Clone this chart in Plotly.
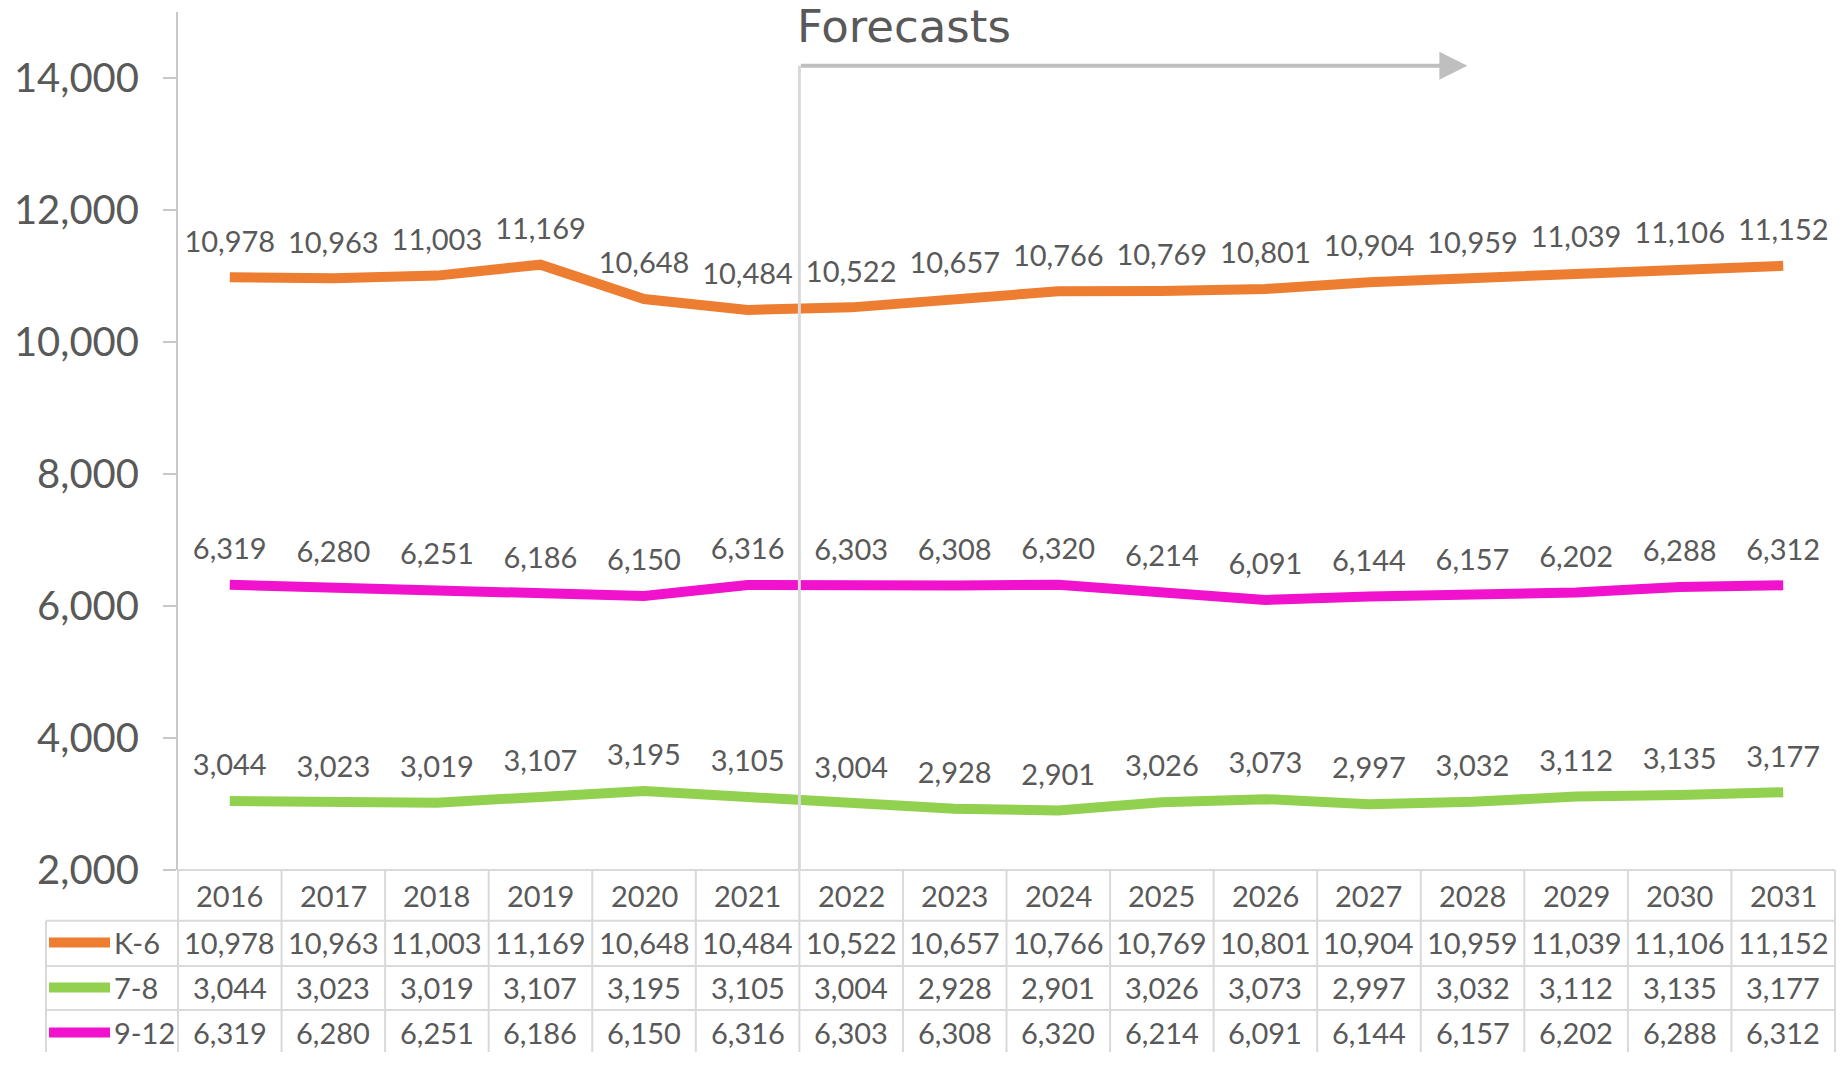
import plotly.graph_objects as go

# ---------------- data ----------------
years = list(range(2016, 2032))
series_names = ["K-6", "7-8", "9-12"]
k6 = [10978, 10963, 11003, 11169, 10648, 10484, 10522, 10657, 10766, 10769, 10801, 10904, 10959, 11039, 11106, 11152]
g78 = [3044, 3023, 3019, 3107, 3195, 3105, 3004, 2928, 2901, 3026, 3073, 2997, 3032, 3112, 3135, 3177]
g912 = [6319, 6280, 6251, 6186, 6150, 6316, 6303, 6308, 6320, 6214, 6091, 6144, 6157, 6202, 6288, 6312]
y_ticks = [2000, 4000, 6000, 8000, 10000, 12000, 14000]
forecast_label = "Forecasts"
forecast_start = 2021.5
forecast_end = 2027.95
forecast_level = 14180

# ---------------- styles / layout (pixels in figure space) ----------------
W, H = 1847, 1075
colors = ["#ED7D31", "#92D050", "#F012CC"]
text_color = "#595959"
grid_color = "#D9D9D9"
axis_color = "#C8C8C8"
font_family = "Lato, 'Open Sans', sans-serif"
title_family = "'DejaVu Sans', sans-serif"

x0_plot, x1_plot = 178, 1835          # plot area left / right
y_plot_top, y_plot_bottom = 12, 889   # plot area top / bottom
x_tab_left = 46                       # legend column left edge
row_edges = [889, 941, 987, 1032]     # header top, K-6 top, 7-8 top, 9-12 top
row_centers = [915, 963, 1009, 1055]  # header, K-6, 7-8, 9-12
key_x = (49, 110)
label_x = 112

series_values = [k6, g78, g912]


def px_x(px):
    return px / W


def px_y(py):
    return 1 - py / H


fig = go.Figure()

for name, vals, col in zip(series_names, series_values, colors):
    fig.add_trace(go.Scatter(
        x=years, y=vals, name=name,
        mode="lines+markers+text",
        line=dict(color=col, width=10),
        marker=dict(size=28, opacity=0),
        text=[f"{v:,}" for v in vals],
        textposition="top center",
        textfont=dict(family=font_family, size=29, color=text_color),
        showlegend=False,
        hoverinfo="skip",
    ))

shapes = []
annotations = []
line_style = dict(color=grid_color, width=2)
col_w = (x1_plot - x0_plot) / len(years)

# table grid: vertical column borders
for i in range(len(years) + 1):
    xp = px_x(x0_plot + i * col_w)
    shapes.append(dict(type="line", xref="paper", yref="paper",
                       x0=xp, x1=xp, y0=px_y(row_edges[0]), y1=0, line=line_style))
# legend column left border
shapes.append(dict(type="line", xref="paper", yref="paper",
                   x0=px_x(x_tab_left), x1=px_x(x_tab_left),
                   y0=px_y(row_edges[1]), y1=0, line=line_style))
# horizontal borders
shapes.append(dict(type="line", xref="paper", yref="paper",
                   x0=px_x(x0_plot), x1=px_x(x1_plot),
                   y0=px_y(row_edges[0]), y1=px_y(row_edges[0]), line=line_style))
for ry in row_edges[1:]:
    shapes.append(dict(type="line", xref="paper", yref="paper",
                       x0=px_x(x_tab_left), x1=px_x(x1_plot),
                       y0=px_y(ry), y1=px_y(ry), line=line_style))

cell_font = dict(family=font_family, size=29, color=text_color)

# header years
for yr in years:
    annotations.append(dict(xref="x", yref="paper", x=yr, y=px_y(row_centers[0]),
                            text=str(yr), showarrow=False, yanchor="middle",
                            font=cell_font))

# rows: legend key + label + values
for r, (name, vals, col) in enumerate(zip(series_names, series_values, colors)):
    cy = px_y(row_centers[r + 1])
    shapes.append(dict(type="line", xref="paper", yref="paper",
                       x0=px_x(key_x[0]), x1=px_x(key_x[1]), y0=cy, y1=cy,
                       line=dict(color=col, width=10)))
    annotations.append(dict(xref="paper", yref="paper", x=px_x(label_x), y=cy,
                            text=name, showarrow=False, xanchor="left", yanchor="middle",
                            font=cell_font))
    for yr, v in zip(years, vals):
        annotations.append(dict(xref="x", yref="paper", x=yr, y=cy,
                                text=f"{v:,}", showarrow=False, yanchor="middle",
                                font=cell_font))

# forecast marker: vertical line + arrow + label
shapes.append(dict(type="line", xref="x", yref="y",
                   x0=forecast_start, x1=forecast_start, y0=y_ticks[0], y1=forecast_level,
                   line=dict(color=grid_color, width=3)))
annotations.append(dict(xref="x", yref="y", axref="x", ayref="y",
                        x=forecast_end, y=forecast_level, ax=forecast_start, ay=forecast_level,
                        text="", showarrow=True, arrowhead=2, arrowsize=1.4, arrowwidth=4,
                        arrowcolor="#BFBFBF"))
annotations.append(dict(xref="x", yref="y", x=forecast_start, y=14770,
                        xanchor="left", yanchor="middle", xshift=-4,
                        text=forecast_label, showarrow=False,
                        font=dict(family=title_family, size=45, color=text_color)))

fig.update_layout(
    width=W, height=H,
    margin=dict(l=0, r=0, t=0, b=0),
    paper_bgcolor="white", plot_bgcolor="white",
    shapes=shapes,
    annotations=annotations,
    xaxis=dict(
        domain=[px_x(x0_plot), px_x(x1_plot)],
        range=[years[0] - 0.5, years[-1] + 0.5],
        showticklabels=False, showgrid=False, zeroline=False, showline=False,
    ),
    yaxis=dict(
        domain=[px_y(y_plot_bottom), px_y(y_plot_top)],
        range=[2000, 15000],
        tickvals=y_ticks,
        tickformat=",d",
        ticks="outside", ticklen=13, tickwidth=2, tickcolor=axis_color,
        showline=True, linecolor=axis_color, linewidth=2,
        showgrid=False, zeroline=False,
        tickfont=dict(family=font_family, size=40, color=text_color),
        ticklabelstandoff=16,
    ),
)

fig.write_html(
    "out.html",
    config={"displayModeBar": False},
    post_script="document.body.style.margin='0';document.body.style.overflow='hidden';",
)
